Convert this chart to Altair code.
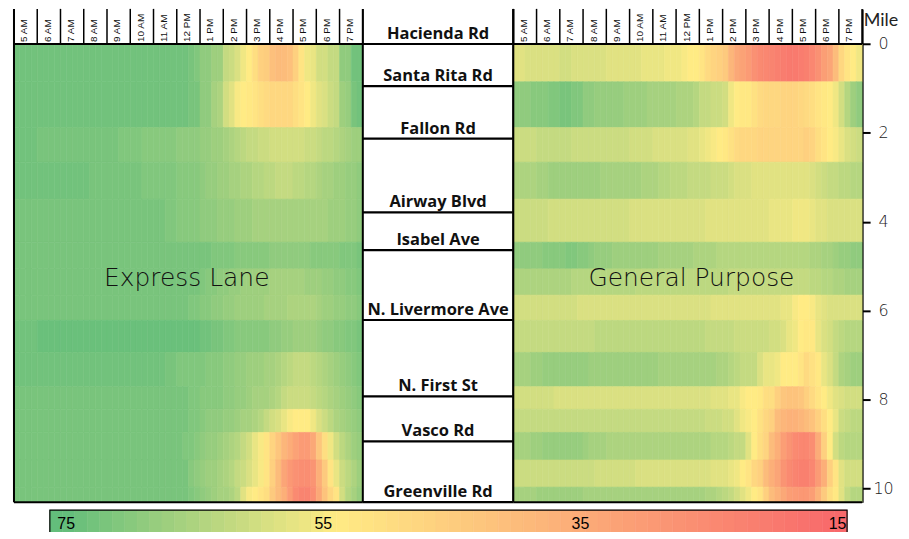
import altair as alt
import pandas as pd

# ---------------- data ----------------
HOURS = [5, 6, 7, 8, 9, 10, 11, 12, 13, 14, 15, 16, 17, 18, 19]
HOUR_LABELS = ["5 AM", "6 AM", "7 AM", "8 AM", "9 AM", "10 AM", "11 AM", "12 PM",
               "1 PM", "2 PM", "3 PM", "4 PM", "5 PM", "6 PM", "7 PM"]
HOUR_EDGES = [5, 6, 7, 8, 9, 10, 11, 12, 13, 14, 15, 16, 17, 18, 19, 20]
STEP = 0.25  # 15-minute columns

# mile boundaries of the 15 segments
ROW_EDGES = [0, 0.85, 1.88, 2.66, 3.49, 4.46, 5.06, 5.65, 6.22, 6.94, 7.71,
             8.22, 8.74, 9.36, 9.97, 10.31]

ROADS = ["Hacienda Rd", "Santa Rita Rd", "Fallon Rd", "Airway Blvd", "Isabel Ave",
         "N. Livermore Ave", "N. First St", "Vasco Rd", "Greenville Rd"]
ROAD_MILES = [0, 0.95, 2.13, 3.79, 4.64, 6.21, 7.93, 8.94, 10.31]

MILE_TICKS = [0, 2, 4, 6, 8, 10]
LEGEND_LABELS = [75, 55, 35, 15]

# Express Lane speeds (mph), one list per segment, 60 quarter-hours 5 AM - 8 PM
el_00 = [73]*28 + [73,73,72,71, 69,69,67,67, 62,61,59,56, 54,50,46,45, 41,40,40,41, 46,52,56,57, 60,60,62,62, 69,69,73,73]
el_01 = [73]*28 + [73,73,72,72, 69,69,66,65, 60,58,55,54, 53,52,50,49, 48,48,48,48, 50,52,54,56, 58,59,61,62, 67,68,72,73]
el_02 = [73,73,73,73, 72,72,72,72, 72,72,72,72, 72,72,72,72, 72,72,71,71, 71,71,70,70, 70,70,70,70, 69,69,69,69, 68,68,67,67, 66,65,64,63, 62,62,61,61, 60,60,60,60, 60,60,61,61, 62,63,63,64, 65,66,67,67]
el_03 = [73]*12 + [73,72,72,72, 72,72,72,72, 72,72,71,71, 71,71,71,71, 70,70,70,70, 69,68,68,67, 67,66,66,65, 65,64,64,63, 63,62,62,62, 63,63,64,64, 65,66,66,67, 67,68,68,69]
el_04 = [72]*24 + [72,72,71,71, 70,70,70,70, 69,69,69,68, 68,68,67,67, 67,66,66,66, 66,66,66,66, 66,66,66,66, 66,66,67,67, 67,68,68,69]
el_05 = [72]*32 + [72,72,71,71, 71,71,70,70, 70,70,70,70, 69,69,69,69, 69,69,69,70, 70,70,70,70, 71,71,71,72]
el_06 = [72]*32 + [71,70,70,69, 69,68,68,67, 67,67,67,67, 66,66,66,66, 66,66,67,67, 67,68,68,69, 69,70,70,71]
el_07 = [72]*28 + [72,72,71,71, 70,70,69,69, 68,68,67,67, 67,67,67,66, 66,66,66,65, 65,65,65,65, 66,67,67,68, 68,69,69,70]
el_08 = [73]*4 + [74]*28 + [73,73,72,72, 71,71,70,70, 70,70,70,70, 69,69,68,68, 67,67,67,67, 68,69,69,70, 70,71,71,72]
el_09 = [73]*24 + [73,73,72,72, 71,71,71,71, 71,70,70,70, 69,69,68,68, 67,67,67,66, 66,65,64,63, 62,62,62,63, 64,65,66,67, 68,69,70,71]
el_10 = [72]*28 + [72,72,71,71, 70,70,70,70, 69,69,68,68, 67,66,66,66, 65,64,62,61, 61,61,61,62, 63,64,65,66, 67,68,69,70]
el_11 = [72]*28 + [72,72,71,71, 70,69,69,69, 68,68,67,66, 66,65,64,62, 60,59,57,55, 54,54,54,56, 59,61,63,65, 66,67,68,69]
el_12 = [72]*28 + [72,71,71,70, 69,68,68,67, 66,65,64,62, 60,57,55,52, 47,43,38,35, 32,30,30,34, 43,50,56,60, 63,65,67,68]
el_13 = [72]*28 + [72,72,70,69, 68,67,67,66, 65,64,62,61, 59,57,55,52, 46,40,33,29, 27,26,26,28, 36,44,52,57, 61,63,65,67]
el_14 = [72]*28 + [72,72,71,70, 69,68,67,66, 66,65,63,58, 55,54,52,50, 44,40,36,30, 25,23,23,26, 34,42,48,52, 60,64,66,68]

# General Purpose speeds (mph)
gp_00 = [58,58,59,59, 59,59,59,59, 60,60,59,59, 59,59,59,59, 58,58,58,58, 58,58,57,57, 57,57,56,56, 56,55,54,54, 52,49,47,46, 44,38,34,32, 30,27,25,24, 23,22,21,20, 20,21,22,24, 27,31,33,40, 48,52,54,56]
gp_01 = [69,69,69,70, 70,70,71,71, 72,72,71,71, 69,69,68,68, 68,68,68,67, 67,67,67,66, 66,66,66,66, 65,65,65,64, 62,62,61,61, 60,56,54,53, 53,51,49,48, 48,48,47,47, 47,48,49,50, 52,53,54,56, 60,64,67,69]
gp_02 = [61,61,61,61, 62,62,62,62, 62,62,61,61, 61,61,61,61, 61,61,61,61, 60,60,60,60, 59,59,59,59, 59,59,58,58, 57,56,55,54, 53,51,49,48, 48,48,47,47, 47,47,47,47, 47,47,46,47, 50,52,54,55, 57,59,60,61]
gp_03 = [65,65,65,65, 66,66,67,67, 67,67,67,67, 67,67,67,66, 66,66,66,66, 66,66,65,65, 65,64,64,63, 63,63,62,62, 62,62,61,61, 61,60,59,59, 59,58,58,58, 58,58,58,58, 58,58,58,59, 60,61,62,62, 63,63,64,64]
gp_04 = [61,61,61,61, 61,61,60,60, 60,60,60,60, 60,60,60,60, 60,60,60,60, 59,59,59,59, 59,59,59,59, 59,59,59,59, 59,58,58,58, 58,58,58,58, 58,58,58,58, 57,57,57,57, 56,56,56,57, 58,58,59,59, 59,59,59,59]
gp_05 = [69,69,69,69, 69,70,70,70, 70,71,71,70, 70,69,68,68, 68,67,67,67, 67,67,67,67, 67,66,66,66, 66,66,66,65, 65,65,65,64, 64,64,64,64, 64,64,64,64, 64,64,64,64, 64,64,64,65, 65,66,66,67, 68,68,69,69]
gp_06 = [65,65,65,65, 65,65,65,65, 65,65,64,64, 64,64,64,64, 64,64,64,64, 64,63,63,63, 63,63,63,63, 63,63,63,63, 63,63,63,63, 63,62,62,62, 62,62,62,62, 62,62,62,62, 62,62,62,63, 63,64,64,65, 65,66,66,66]
gp_07 = [60,60,60,60, 60,60,60,60, 60,60,60,59, 59,59,59,59, 59,59,59,59, 59,59,59,59, 59,59,59,59, 59,59,59,59, 59,59,58,58, 58,58,58,58, 58,58,58,58, 58,58,57,57, 55,54,54,55, 57,58,59,59, 59,59,59,59]
gp_08 = [62]*12 + [62,62,63,63, 63,63,63,63, 63,63,63,63, 63,63,63,63, 63,63,63,63, 63,62,62,62, 62,62,61,61, 61,61,61,61, 60,60,59,57, 56,54,53,53, 57,59,60,62, 63,64,64,64]
gp_09 = [66,66,66,67, 67,68,68,68, 68,68,68,68, 68,67,67,67, 67,67,67,67, 67,67,67,67, 67,66,66,66, 66,66,66,66, 66,66,66,65, 65,64,63,62, 62,62,59,57, 57,56,54,54, 54,52,49,51, 53,57,59,62, 65,66,67,67]
gp_10 = [60,60,60,60, 60,60,60,59] + [59]*24 + [59,59,58,58, 58,57,57,55, 54,54,53,50, 50,46,43,42, 42,43,46,49, 52,54,56,58, 59,60,60,60]
gp_11 = [62]*32 + [62,61,61,61, 60,60,58,56, 55,54,51,48, 46,40,38,37, 37,38,40,42, 46,50,54,57, 61,62,63,63]
gp_12 = [66,66,66,67, 67,68,68,68, 68,68,68,68, 67,66,66,66] + [65]*16 + [65,65,64,64, 64,63,62,62, 58,54,50,47, 40,36,31,28, 25,24,24,26, 35,46,54,60, 63,64,64,64]
gp_13 = [61]*12 + [61,61,60,60, 60,60,60,60, 60,59,59,59, 59,59,59,59, 59,59,59,59, 59,59,58,58, 58,57,56,54, 52,48,46,40, 36,33,28,25, 23,22,22,24, 30,36,46,52, 58,60,60,60]
gp_14 = [66,66,66,66, 67,67,67,67, 67,67,67,67] + [66]*20 + [66,65,65,64, 63,62,60,58, 56,54,52,46, 40,37,34,31, 30,29,29,31, 37,44,50,53, 58,62,64,64]

EL_ROWS = [el_00, el_01, el_02, el_03, el_04, el_05, el_06, el_07,
           el_08, el_09, el_10, el_11, el_12, el_13, el_14]
GP_ROWS = [gp_00, gp_01, gp_02, gp_03, gp_04, gp_05, gp_06, gp_07,
           gp_08, gp_09, gp_10, gp_11, gp_12, gp_13, gp_14]

# legend bar ends (in mph on the legend's scale) and scale limits
LEG_HI, LEG_LO = 76.27, 14.26
LEG_DOM = [13.09, 79.06]

# ---------------- styling ----------------
LIGHT = "DejaVu Sans"
Y_DOM = [-0.79, ROW_EDGES[-1]]
XS = alt.Scale(domain=[5, 20], nice=False, zero=False)
YS = alt.Scale(domain=Y_DOM, reverse=True, nice=False, zero=False)
MX = alt.Scale(domain=[0, 1], nice=False, zero=False)


def cscale():
    return alt.Scale(domain=[15, 54, 75], range=["#F8696B", "#FFEB84", "#63BE7B"],
                     interpolate="rgb", clamp=True)


def heat_frame(rows):
    recs = []
    for r, vals in enumerate(rows):
        for i, v in enumerate(vals):
            t0 = HOURS[0] + i * STEP
            recs.append({"t0": t0, "t1": t0 + STEP, "m0": ROW_EDGES[r],
                         "m1": ROW_EDGES[r + 1], "v": v})
    return pd.DataFrame(recs)


def mile_axis():
    return alt.Axis(orient="right", values=MILE_TICKS, grid=False,
                    title="Mile", titleAngle=0, titleAlign="left",
                    titleBaseline="alphabetic", titleX=1, titleY=17,
                    titleFont="Lato", titleFontSize=18, titleFontWeight="normal",
                    titleColor="#222",
                    labelAlign="center", labelBaseline="middle", labelPadding=13,
                    labelFont=LIGHT, labelFontSize=16, labelFontWeight=300,
                    labelColor="#222",
                    tickSize=8, tickWidth=2, tickColor="black",
                    domainColor="black", domainWidth=2)


def panel(rows, label, label_x, right_axis):
    def yenc(field=None, datum=None):
        kw = {"scale": YS}
        if right_axis:
            kw["axis"] = mile_axis()
        else:
            kw["axis"] = None
        if field is not None:
            return alt.Y(field, **kw)
        return alt.Y(datum=datum, **kw)

    heat = alt.Chart(heat_frame(rows)).mark_rect(strokeWidth=0.6).encode(
        x=alt.X("t0:Q", scale=XS, axis=None),
        x2="t1:Q",
        y=yenc("m0:Q"),
        y2="m1:Q",
        color=alt.Color("v:Q", scale=cscale(), legend=None),
        stroke=alt.Stroke("v:Q", scale=cscale(), legend=None),
    )
    hdr_lines = alt.Chart(pd.DataFrame({"h": HOUR_EDGES})).mark_rule(
        color="black", strokeWidth=1.5).encode(
        x=alt.X("h:Q", scale=XS, axis=None),
        y=yenc(datum=Y_DOM[0]),
        y2=alt.Y2(datum=0),
    )
    hdr_text = alt.Chart(pd.DataFrame({"hx": [h + 0.45 for h in HOURS],
                                       "lab": HOUR_LABELS})).mark_text(
        angle=270, align="left", baseline="middle", font="Liberation Sans",
        fontSize=10, color="#111").encode(
        x=alt.X("hx:Q", scale=XS, axis=None),
        y=yenc(datum=-0.045),
        text="lab:N",
    )
    hlines = alt.Chart(pd.DataFrame({"m": [0, ROW_EDGES[-1]]})).mark_rule(
        color="black", strokeWidth=2).encode(
        x=alt.X(datum=HOUR_EDGES[0], scale=XS, axis=None),
        x2=alt.X2(datum=HOUR_EDGES[-1]),
        y=yenc("m:Q"),
    )
    left_edge = alt.Chart(pd.DataFrame({"h": [HOUR_EDGES[0]]})).mark_rule(
        color="black", strokeWidth=2).encode(
        x=alt.X("h:Q", scale=XS, axis=None),
        y=yenc(datum=Y_DOM[0]),
        y2=alt.Y2(datum=ROW_EDGES[-1]),
    )
    title = alt.Chart(pd.DataFrame({"t": [label]})).mark_text(
        font=LIGHT, fontSize=25, fontWeight=300, color="#111",
        baseline="alphabetic").encode(
        x=alt.X(datum=label_x, scale=XS, axis=None),
        y=yenc(datum=5.45),
        text="t:N",
    )
    return alt.layer(heat, hdr_lines, hdr_text, hlines, left_edge, title).properties(
        width=350, height=495)


left = panel(EL_ROWS, "Express Lane", 12.43, False)
right = panel(GP_ROWS, "General Purpose", 12.66, True)

roads_df = pd.DataFrame({"road": ROADS, "mile": ROAD_MILES})
mid_lines = alt.Chart(roads_df).mark_rule(color="black", strokeWidth=2.2).encode(
    x=alt.X(datum=0, scale=MX, axis=None),
    x2=alt.X2(datum=1),
    y=alt.Y("mile:Q", scale=YS, axis=None),
)
mid_edges = alt.Chart(pd.DataFrame({"e": [0, 1]})).mark_rule(
    color="black", strokeWidth=2).encode(
    x=alt.X("e:Q", scale=MX, axis=None),
    y=alt.Y(datum=Y_DOM[0], scale=YS, axis=None),
    y2=alt.Y2(datum=ROW_EDGES[-1]),
)
mid_text = alt.Chart(roads_df).mark_text(
    font="Open Sans", fontWeight="bold", fontSize=16.5, baseline="alphabetic",
    dy=-5, color="#111").encode(
    x=alt.X(datum=0.5, scale=MX, axis=None),
    y=alt.Y("mile:Q", scale=YS, axis=None),
    text="road:N",
)
middle = alt.layer(mid_edges, mid_lines, mid_text).properties(width=151, height=495)

top = alt.hconcat(left, middle, right, spacing=0, bounds="flush")

# legend colour ramp
N_CELLS = 64
edges = [LEG_HI - k * (LEG_HI - LEG_LO) / N_CELLS for k in range(N_CELLS + 1)]
leg_df = pd.DataFrame({"a": edges[:-1], "b": edges[1:],
                       "v": [(edges[k] + edges[k + 1]) / 2 for k in range(N_CELLS)]})
LX = alt.Scale(domain=LEG_DOM, reverse=True, nice=False, zero=False)
leg_bar = alt.Chart(leg_df).mark_rect(strokeWidth=0.6).encode(
    x=alt.X("a:Q", scale=LX, axis=None),
    x2="b:Q",
    color=alt.Color("v:Q", scale=cscale(), legend=None),
    stroke=alt.Stroke("v:Q", scale=cscale(), legend=None),
)
leg_frame = alt.Chart(pd.DataFrame({"a": [LEG_HI], "b": [LEG_LO]})).mark_rect(
    fillOpacity=0, stroke="black", strokeWidth=1.2).encode(
    x=alt.X("a:Q", scale=LX, axis=None),
    x2="b:Q",
)
leg_text = alt.Chart(pd.DataFrame({"v": LEGEND_LABELS,
                                   "t": [str(v) for v in LEGEND_LABELS]})).mark_text(
    font="Liberation Sans", fontSize=16, color="black", baseline="middle").encode(
    x=alt.X("v:Q", scale=LX, axis=None),
    text="t:N",
)
legend = alt.layer(leg_bar, leg_frame, leg_text).properties(width=851, height=27)

chart = alt.vconcat(top, legend, spacing=4).properties(
    padding={"left": 4, "top": -2, "right": 2, "bottom": -8}
).configure_view(stroke="transparent")

chart.save("out.html", embed_options={"renderer": "svg", "actions": False})
